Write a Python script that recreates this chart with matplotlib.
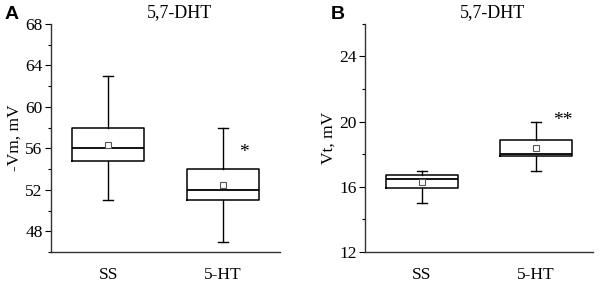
import matplotlib
matplotlib.use("Agg")
import matplotlib.pyplot as plt
from matplotlib.ticker import MultipleLocator

groups = ["SS", "5-HT"]
# panel A: -Vm, mV
a_lo = [51, 47]; a_q1 = [54.8, 51]; a_med = [56, 52]; a_q3 = [58, 54]; a_hi = [63, 58]; a_mean = [56.3, 52.5]
# panel B: Vt, mV
b_lo = [15, 17]; b_q1 = [15.9, 17.9]; b_med = [16.5, 18]; b_q3 = [16.7, 18.9]; b_hi = [17, 20]; b_mean = [16.3, 18.4]

serif = "Liberation Serif"
sans = "Liberation Sans"

fig = plt.figure(figsize=(6, 2.83), dpi=100)
axA = fig.add_axes([0.085, 0.1095, 0.382, 0.806])
axB = fig.add_axes([0.608, 0.1095, 0.380, 0.806])

def stats(lo, q1, med, q3, hi, mean):
    out = []
    for i in range(len(groups)):
        out.append(dict(whislo=lo[i], q1=q1[i], med=med[i], q3=q3[i], whishi=hi[i],
                        mean=mean[i], fliers=[], label=groups[i]))
    return out

def draw(ax, st, ylim, major, minor, ylabel, star, star_x, star_y):
    ax.bxp(st, positions=[1, 2], widths=0.63, capwidths=0.09, showmeans=True,
           boxprops=dict(color="black", linewidth=1.1),
           medianprops=dict(color="black", linewidth=1.3),
           whiskerprops=dict(color="black", linewidth=1.0),
           capprops=dict(color="black", linewidth=1.0),
           meanprops=dict(marker="s", markersize=4, markerfacecolor="white",
                          markeredgecolor="#555555", markeredgewidth=0.8))
    ax.set_xlim(0.5, 2.5)
    ax.set_ylim(*ylim)
    ax.yaxis.set_major_locator(MultipleLocator(major))
    ax.yaxis.set_minor_locator(MultipleLocator(minor))
    for s in ["top", "right"]:
        ax.spines[s].set_visible(False)
    for s in ["left", "bottom"]:
        ax.spines[s].set_color("#333333")
        ax.spines[s].set_linewidth(1.0)
    ax.tick_params(axis="x", length=0, pad=11)
    ax.tick_params(axis="y", which="major", length=4, width=0.8, pad=2)
    ax.tick_params(axis="y", which="minor", length=2.5, width=0.8)
    ax.set_xticks([1, 2])
    ax.set_xticklabels(groups)
    for t in ax.get_xticklabels() + ax.get_yticklabels():
        t.set_fontfamily(serif)
        t.set_fontsize(12.5)
    ax.set_ylabel(ylabel, fontfamily=serif, fontsize=12.5, labelpad=2)
    ax.text(1.62, 1.048, "5,7-DHT", transform=ax.get_xaxis_transform(),
            ha="center", va="center", fontfamily=serif, fontsize=13)
    ax.text(star_x, star_y, star, ha="center", va="center", fontfamily=serif, fontsize=14)

draw(axA, stats(a_lo, a_q1, a_med, a_q3, a_hi, a_mean), (46, 68), 4, 2, "-Vm, mV", "*", 2.18, 55.6)
draw(axB, stats(b_lo, b_q1, b_med, b_q3, b_hi, b_mean), (12, 26), 4, 2, "Vt, mV", "**", 2.24, 20.1)

fig.text(0.008, 0.95, "A", fontfamily=sans, fontweight="bold", fontsize=14, va="center")
fig.text(0.552, 0.95, "B", fontfamily=sans, fontweight="bold", fontsize=14, va="center")

fig.savefig("out.png", dpi=100)
